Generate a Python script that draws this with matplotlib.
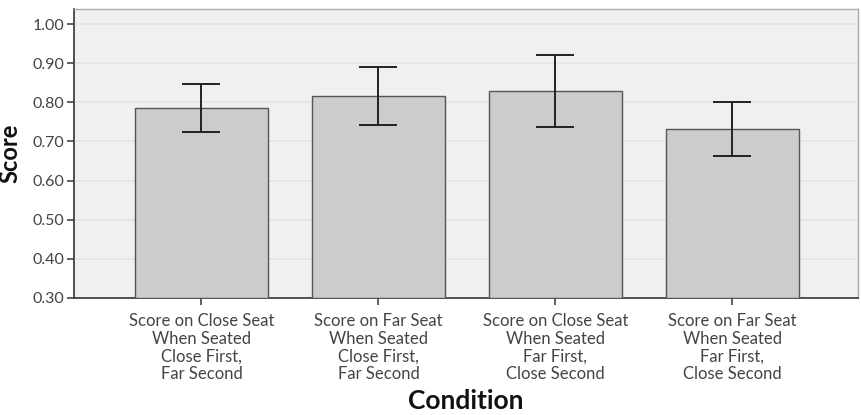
import matplotlib
matplotlib.use("Agg")
import matplotlib.pyplot as plt
import numpy as np

categories = [
    "Score on Close Seat\nWhen Seated\nClose First,\nFar Second",
    "Score on Far Seat\nWhen Seated\nClose First,\nFar Second",
    "Score on Close Seat\nWhen Seated\nFar First,\nClose Second",
    "Score on Far Seat\nWhen Seated\nFar First,\nClose Second",
]
means = [0.785, 0.816, 0.830, 0.732]
err_upper = [0.846, 0.890, 0.920, 0.800]
err_lower = [0.724, 0.742, 0.738, 0.663]
yticks = [0.30, 0.40, 0.50, 0.60, 0.70, 0.80, 0.90, 1.00]

plt.rcParams['font.family'] = ['Lato', 'DejaVu Sans']

fig = plt.figure(figsize=(8.61, 4.15), dpi=100)
ax = fig.add_axes([0.086, 0.282, 0.9105, 0.696])
ax.set_facecolor('#f0f0f0')

x = np.arange(len(categories))
ax.bar(x, np.array(means) - 0.30, bottom=0.30, width=0.75, color='#cccccc',
       edgecolor='#555555', linewidth=1.0, zorder=3)
yerr = [np.array(means) - np.array(err_lower), np.array(err_upper) - np.array(means)]
ax.errorbar(x, means, yerr=yerr, fmt='none', ecolor='#222222', elinewidth=1.4,
            capsize=14, capthick=1.4, zorder=4)

ax.set_ylim(0.30, 1.038)
ax.set_xlim(-0.72, 3.71)
ax.set_yticks(yticks)
ax.set_yticklabels([f"{v:.2f}" for v in yticks], color='#444444', fontsize=11.5)
ax.set_xticks(x)
ax.set_xticklabels(categories, color='#444444', fontsize=12, linespacing=1.12)
ax.tick_params(axis='y', length=5, width=1.2, color='#444444', pad=2)
ax.tick_params(axis='x', length=5, width=1.2, color='#444444', pad=6)
ax.yaxis.grid(True, color='#e3e3e3', linewidth=1.2, zorder=0)
ax.set_axisbelow(True)

for s in ['top', 'right']:
    ax.spines[s].set_color('#aaaaaa')
    ax.spines[s].set_linewidth(1.0)
for s in ['left', 'bottom']:
    ax.spines[s].set_color('#444444')
    ax.spines[s].set_linewidth(1.3)

ax.set_ylabel("Score", fontsize=17, fontweight='bold', color='#111111', labelpad=8)
ax.set_xlabel("Condition", fontsize=19, fontweight='bold', color='#111111', labelpad=5)

fig.savefig("out.png", dpi=100, facecolor='white')
